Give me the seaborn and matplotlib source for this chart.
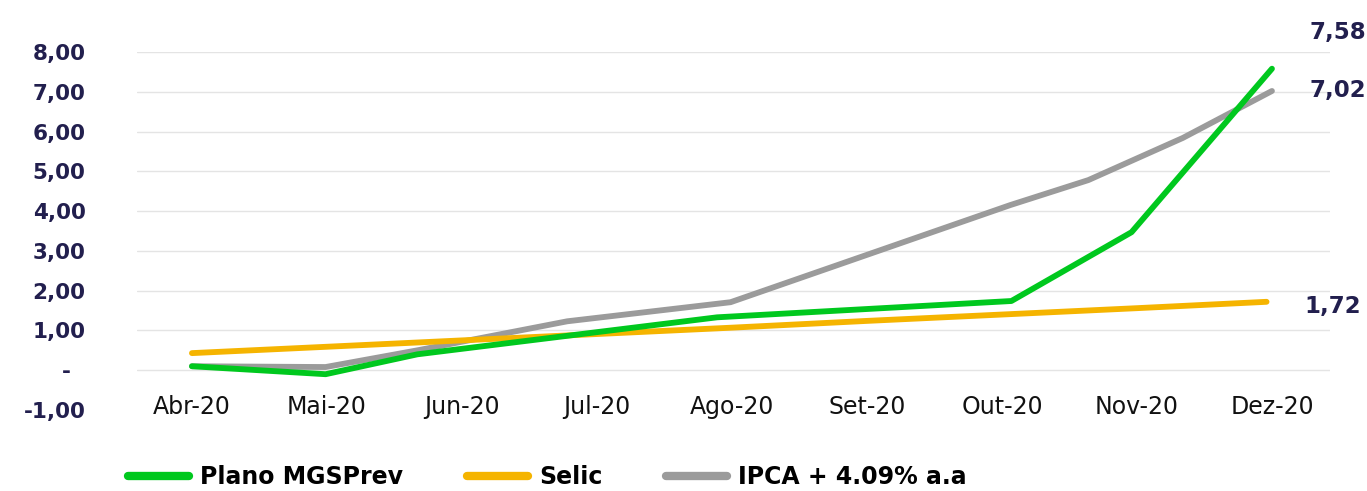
import matplotlib
matplotlib.use("Agg")
import matplotlib.pyplot as plt
import pandas as pd
import seaborn as sns

# Month labels on the horizontal axis (position 0 = Abr-20)
months = ["Abr-20", "Mai-20", "Jun-20", "Jul-20", "Ago-20",
          "Set-20", "Out-20", "Nov-20", "Dez-20"]

# Accumulated return (%) by position in months since Abr-20
plano_x = [0.0, 0.99, 1.67, 3.89, 6.07, 6.96, 8.0]
plano_y = [0.10, -0.10, 0.40, 1.33, 1.74, 3.47, 7.58]

selic_x = [0.0, 1.0, 2.0, 3.0, 4.0, 5.0, 6.0, 7.0, 7.96]
selic_y = [0.43, 0.59, 0.75, 0.91, 1.07, 1.24, 1.40, 1.56, 1.72]

ipca_x = [0.0, 0.99, 1.67, 2.78, 3.99, 6.06, 6.64, 7.34, 8.0]
ipca_y = [0.10, 0.08, 0.50, 1.23, 1.71, 4.15, 4.78, 5.84, 7.02]

series_names = ["Plano MGSPrev", "Selic", "IPCA + 4.09% a.a"]
series_colors = ["#00c81e", "#f5b400", "#9b9b9b"]

ytick_values = [-1, 0, 1, 2, 3, 4, 5, 6, 7, 8]
ytick_labels = ["-1,00", "-  ", "1,00", "2,00", "3,00", "4,00",
                "5,00", "6,00", "7,00", "8,00"]

sns.set_theme(style="white")
plt.rcParams["font.family"] = ["DejaVu Sans"]

navy = "#221f4e"

fig = plt.figure(figsize=(13.67, 4.91), dpi=100)
ax = fig.add_axes([137 / 1367, 1 - 410 / 491, (1330 - 137) / 1367, (410 - 52) / 491])

# horizontal grid (no line at the bottom value)
for v in ytick_values[1:]:
    ax.axhline(v, color="#e4e4e4", lw=1.0, zorder=0)

data = [(plano_x, plano_y), (selic_x, selic_y), (ipca_x, ipca_y)]
zorders = [4, 3, 2]
for (xs, ys), name, color, z in zip(data, series_names, series_colors, zorders):
    df = pd.DataFrame({"x": xs, "y": ys})
    sns.lineplot(data=df, x="x", y="y", ax=ax, color=color, lw=4.2,
                 label=name, zorder=z, solid_capstyle="round", legend=False)

# end-of-period value labels
label_offsets = [(38, 36), (38, -5), (38, 0)]
for (xs, ys), (dx, dy) in zip(data, label_offsets):
    ax.annotate(f"{ys[-1]:.2f}".replace(".", ","), xy=(xs[-1], ys[-1]),
                xytext=(dx, dy), textcoords="offset pixels",
                ha="left", va="center", fontsize=16.5, fontweight="bold",
                color=navy, annotation_clip=False)

ax.set_xlim(-0.407, 8.43)
ax.set_ylim(-1, 8)
ax.set_xticks(range(len(months)))
ax.set_xticklabels(months)
ax.set_yticks(ytick_values)
ax.set_yticklabels(ytick_labels)
ax.set_xlabel("")
ax.set_ylabel("")

for lbl in ax.get_yticklabels():
    lbl.set_fontweight("bold")
    lbl.set_fontsize(15.5)
    lbl.set_color(navy)
for lbl in ax.get_xticklabels():
    lbl.set_fontsize(17)
    lbl.set_color("#111111")

ax.tick_params(axis="y", length=0, pad=37)
ax.tick_params(axis="x", length=0, pad=-11)
for s in ax.spines.values():
    s.set_visible(False)

handles, labels = ax.get_legend_handles_labels()
leg = fig.legend(handles, labels, loc="center left",
                 bbox_to_anchor=(128 / 1367, 1 - 477 / 491),
                 ncol=3, frameon=False, borderpad=0, borderaxespad=0,
                 handlelength=2.6, handletextpad=0.45, columnspacing=2.7,
                 prop={"weight": "bold", "size": 17})
for text in leg.get_texts():
    text.set_color("#000000")
for line in leg.get_lines():
    line.set_linewidth(6)
    line.set_solid_capstyle("round")

fig.savefig("out.png", dpi=100)
